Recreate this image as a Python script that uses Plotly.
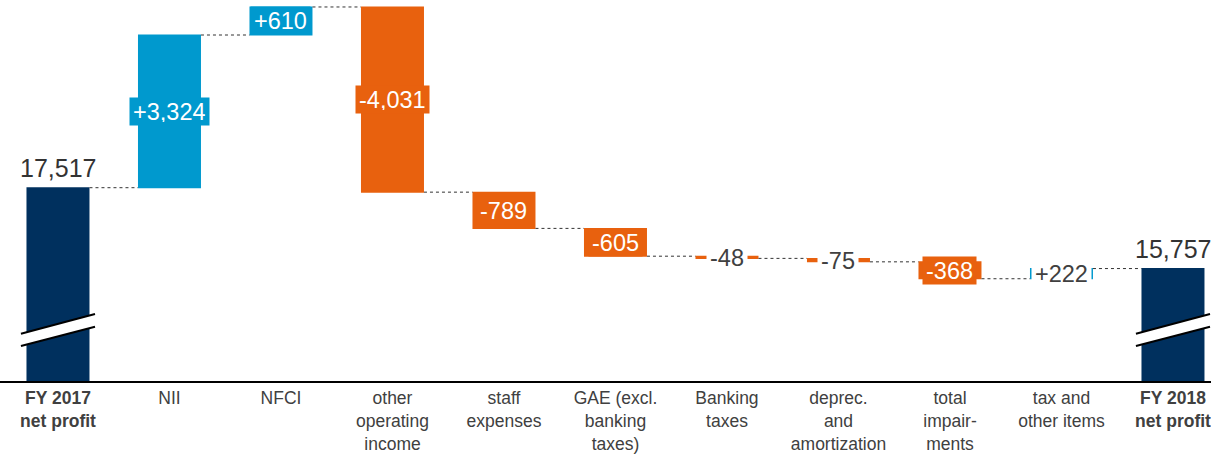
import plotly.graph_objects as go

# Net profit bridge FY 2017 -> FY 2018
categories = [
    "<b>FY 2017</b><br><b>net profit</b>",
    "NII",
    "NFCI",
    "other<br>operating<br>income",
    "staff<br>expenses",
    "GAE (excl.<br>banking<br>taxes)",
    "Banking<br>taxes",
    "deprec.<br>and<br>amortization",
    "total<br>impair-<br>ments",
    "tax and<br>other items",
    "<b>FY 2018</b><br><b>net profit</b>",
]
start_profit = 17517
changes = [3324, 610, -4031, -789, -605, -48, -75, -368, 222]
measures = ["absolute"] + ["relative"] * len(changes) + ["total"]
values = [start_profit] + changes + [0]

NAVY = "#00305E"
BLUE = "#0099CE"
ORANGE = "#E8610E"
TEXT = "#404040"
FONT = "Arial, Liberation Sans, sans-serif"

x_pos = list(range(len(categories)))
bar_width = 0.565

fig = go.Figure(go.Waterfall(
    x=x_pos,
    y=values,
    measure=measures,
    width=bar_width,
    increasing=dict(marker=dict(color=BLUE)),
    decreasing=dict(marker=dict(color=ORANGE)),
    totals=dict(marker=dict(color=NAVY)),
    connector=dict(mode="between", line=dict(color="#333333", width=1, dash="dot")),
    hoverinfo="skip",
    textinfo="none",
))

annotations = []
# running totals for label placement
level = start_profit
end_profit = start_profit + sum(changes)
for i, d in enumerate(changes, start=1):
    lo, hi = sorted([level, level + d])
    mid = (lo + hi) / 2
    big = abs(d) >= 300
    color = BLUE if d > 0 else ORANGE
    annotations.append(dict(
        x=i, y=mid, xref="x", yref="y",
        text=f"{d:+,}",
        showarrow=False,
        font=dict(family=FONT, size=23.5, color="white" if big else TEXT),
        bgcolor=color if big else "white",
        borderpad=3, height=21,
        xanchor="center", yanchor="middle",
    ))
    level += d

for i, v in [(0, start_profit), (len(categories) - 1, end_profit)]:
    annotations.append(dict(
        x=i, y=v, xref="x", yref="y",
        text=f"{v:,}",
        showarrow=False,
        font=dict(family=FONT, size=25, color="#333333"),
        xanchor="center", yanchor="bottom", yshift=5, borderpad=0,
    ))

# axis-break marks across the two total bars
shapes = []
half = 0.332
y_up = (0.1241, 0.1759)
y_dn = (0.0919, 0.1425)
for i in (0, len(categories) - 1):
    shapes.append(dict(
        type="path", xref="x", yref="paper",
        path=(f"M {i-half},{y_dn[0]} L {i+half},{y_dn[1]} "
              f"L {i+half},{y_up[1]} L {i-half},{y_up[0]} Z"),
        fillcolor="white", line=dict(width=0), layer="above",
    ))
    for y0, y1 in (y_up, y_dn):
        shapes.append(dict(
            type="line", xref="x", yref="paper",
            x0=i - half, x1=i + half, y0=y0, y1=y1,
            line=dict(color="black", width=2), layer="above",
        ))

fig.update_layout(
    width=1211, height=457,
    margin=dict(l=0, r=0, t=0, b=76),
    paper_bgcolor="white", plot_bgcolor="white",
    showlegend=False,
    font=dict(family=FONT, color=TEXT),
    annotations=annotations,
    shapes=shapes,
    xaxis=dict(
        range=[-0.520, 10.341],
        tickmode="array", tickvals=x_pos, ticktext=categories,
        tickfont=dict(family=FONT, size=17.5, color=TEXT),
        ticklabeloverflow="allow",
        ticks="", showgrid=False, zeroline=False,
        showline=True, linecolor="black", linewidth=2,
        fixedrange=True,
    ),
    yaxis=dict(
        range=[13309, 21603],
        visible=False, showgrid=False, zeroline=False,
        fixedrange=True,
    ),
)

fig.write_html("out.html")
